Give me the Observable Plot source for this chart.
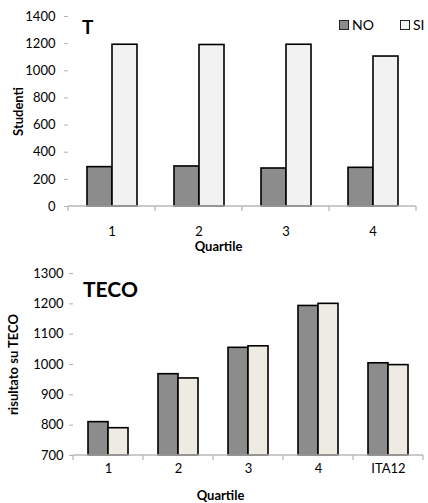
<!DOCTYPE html>
<html>
<head>
<meta charset="utf-8">
<script src="https://cdn.jsdelivr.net/npm/d3@7"></script>
<script src="https://cdn.jsdelivr.net/npm/@observablehq/plot@0.6"></script>
<style>
  body { margin: 0; background: #fff; font-family: Lato, "Open Sans", sans-serif; }
  #wrap { position: relative; width: 428px; height: 503px; overflow: hidden; background: #fff; }
  .panel { position: absolute; left: 0; }
  .title { position: absolute; font-weight: bold; color: #000; line-height: 1; }
  .legend { position: absolute; top: 16px; left: 339px; font-size: 14px; color: #000; display: flex; align-items: center; white-space: nowrap; }
  .sw { display: inline-block; width: 8px; height: 8px; border: 1.2px solid #222; margin-right: 3px; }
</style>
</head>
<body>
<div id="wrap">
  <div id="top" class="panel" style="top:0px"></div>
  <div id="bot" class="panel" style="top:250px"></div>
  <div class="title" style="left:82px;top:17px;font-size:19px">T</div>
  <div class="title" style="left:83px;top:278px;font-size:21px">TECO</div>
  <div class="legend">
    <span class="sw" style="background:#8c8c8c"></span><span>NO</span>
    <span class="sw" style="background:#f2f2f2;margin-left:26px"></span><span>SI</span>
  </div>
</div>
<script>
// ---- data ----
const serie = ["NO", "SI"];

const quartiliT = ["1", "2", "3", "4"];
const studentiNO = [290, 295, 280, 285];
const studentiSI = [1192, 1190, 1192, 1105];
const yTicksT = [0, 200, 400, 600, 800, 1000, 1200, 1400];

const quartiliTECO = ["1", "2", "3", "4", "ITA12"];
const tecoNO = [810, 968, 1055, 1193, 1004];
const tecoSI = [790, 954, 1060, 1200, 998];
const yTicksTECO = [700, 800, 900, 1000, 1100, 1200, 1300];

function makeChart(o) {
  const data = o.cats.flatMap((c, i) => [
    {q: c, s: "NO", v: o.no[i]},
    {q: c, s: "SI", v: o.si[i]}
  ]);
  const y0 = o.yTicks[0];
  const y1 = o.yTicks[o.yTicks.length - 1];
  const plot = Plot.plot({
    width: 428,
    height: o.height,
    marginTop: o.mt,
    marginBottom: o.mb,
    marginLeft: o.ml,
    marginRight: o.mr,
    style: {fontFamily: "Lato, 'Open Sans', sans-serif", fontSize: "13px", color: "#000", background: "transparent", overflow: "visible"},
    fx: {domain: o.cats, padding: 0},
    x: {domain: serie, paddingInner: 0, paddingOuter: o.po, axis: null},
    y: {domain: [y0, y1]},
    color: {domain: serie, range: ["#8c8c8c", o.siColor]},
    marks: [
      Plot.axisY({ticks: o.yTicks, tickSize: 4, tickPadding: o.tp, tickFormat: d => String(d), stroke: "#b0b0b0",
        label: o.yLabel, labelAnchor: "center", labelArrow: "none", labelOffset: o.lo}),
      Plot.axisFx({anchor: "bottom", tickSize: 0, tickPadding: o.fxPad, label: "Quartile", labelAnchor: "center", labelArrow: "none", labelOffset: o.fxLo}),
      Plot.barY(data, {fx: "q", x: "s", y1: y0, y2: "v", fill: "s", stroke: "#000", strokeWidth: 1.6})
    ]
  });
  // axis line and boundary ticks drawn from the fx scale
  const fx = plot.scale("fx");
  const ys = plot.scale("y");
  const yb = ys.apply(y0);
  const edges = o.cats.map(c => fx.apply(c)).concat([fx.apply(o.cats[o.cats.length - 1]) + fx.bandwidth]);
  const g = d3.select(plot).append("g").attr("stroke", "#b8b8b8").attr("stroke-width", 1.3);
  g.append("line").attr("x1", edges[0]).attr("x2", edges[edges.length - 1]).attr("y1", yb).attr("y2", yb);
  g.selectAll("line.t").data(edges).join("line").attr("class", "t")
    .attr("x1", d => d).attr("x2", d => d).attr("y1", yb).attr("y2", yb + 5);
  d3.select(plot).selectAll('[aria-label$="axis label"]').attr("font-weight", "bold").attr("font-size", "13px");
  d3.select(plot).selectAll('[aria-label="fx-axis label"]').each(function () {
    const t = this.getAttribute("transform") || "";
    this.setAttribute("transform", `translate(${o.fxShift},0) ` + t);
  });
  return plot;
}

document.getElementById("top").appendChild(makeChart({
  cats: quartiliT, no: studentiNO, si: studentiSI, siColor: "#f2f2f2",
  yTicks: yTicksT, yLabel: "Studenti",
  height: 250, mt: 16, mb: 44, ml: 67, mr: 12, po: 0.74, tp: 9, lo: 55, fxPad: 20, fxLo: 44, fxShift: -24
}));
document.getElementById("bot").appendChild(makeChart({
  cats: quartiliTECO, no: tecoNO, si: tecoSI, siColor: "#eeebe3",
  yTicks: yTicksTECO, yLabel: "risultato su TECO",
  height: 253, mt: 23, mb: 48, ml: 71, mr: 3, po: 0.73, tp: 6, lo: 65, fxPad: 8, fxLo: 44, fxShift: -28
}));
</script>
</body>
</html>
